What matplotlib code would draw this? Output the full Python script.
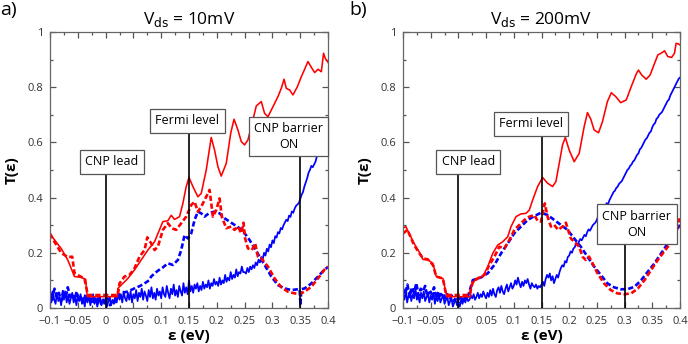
## transmission T(eps) for two bias voltages, solid/dashed red and blue curves
import numpy as np
import matplotlib as mpl
mpl.use('Agg')
import matplotlib.pyplot as plt
from matplotlib.ticker import MultipleLocator

plt.rcParams['font.family'] = ['Open Sans', 'DejaVu Sans']

# ---------------- panel a : Vds = 10mV ----------------
a_red_x = [-0.1, -0.08, -0.068, -0.056, -0.044, -0.036, -0.033, 0.021, 0.022, 0.04, 0.052, 0.064,
           0.076, 0.088, 0.103, 0.112, 0.118, 0.124, 0.133, 0.139, 0.145, 0.15, 0.157, 0.166, 0.172,
           0.181, 0.19, 0.196, 0.202, 0.208, 0.217, 0.225, 0.231, 0.238, 0.244, 0.25, 0.256, 0.262,
           0.271, 0.28, 0.286, 0.292, 0.298, 0.31, 0.316, 0.321, 0.325, 0.331, 0.337, 0.345, 0.352,
           0.358, 0.364, 0.37, 0.376, 0.382, 0.388, 0.392, 0.395, 0.4]
a_red_y = [0.268, 0.216, 0.174, 0.114, 0.111, 0.104, 0.041, 0.041, 0.071, 0.107, 0.138, 0.174,
           0.21, 0.24, 0.313, 0.316, 0.336, 0.321, 0.331, 0.379, 0.44, 0.473, 0.44, 0.403, 0.415,
           0.5, 0.618, 0.572, 0.512, 0.478, 0.524, 0.633, 0.684, 0.645, 0.603, 0.591, 0.609, 0.657,
           0.732, 0.748, 0.705, 0.693, 0.717, 0.766, 0.796, 0.829, 0.796, 0.79, 0.772, 0.802, 0.838,
           0.865, 0.893, 0.872, 0.853, 0.865, 0.856, 0.923, 0.905, 0.89]

a_redd_x = [-0.1, -0.092, -0.08, -0.068, -0.06, -0.056, -0.047, -0.038, -0.032, 0.022, 0.025, 0.034,
            0.043, 0.052, 0.061, 0.07, 0.075, 0.082, 0.088, 0.094, 0.103, 0.112, 0.119, 0.127, 0.136,
            0.145, 0.154, 0.16, 0.166, 0.172, 0.181, 0.187, 0.193, 0.199, 0.205, 0.209, 0.217, 0.226,
            0.232, 0.238, 0.244, 0.248, 0.251, 0.256, 0.263, 0.269, 0.274, 0.28, 0.292, 0.304, 0.316,
            0.328, 0.34, 0.349, 0.358, 0.37, 0.382, 0.394, 0.4]
a_redd_y = [0.27, 0.24, 0.2, 0.184, 0.186, 0.126, 0.116, 0.107, 0.047, 0.047, 0.089, 0.114,
            0.12, 0.144, 0.186, 0.21, 0.256, 0.234, 0.21, 0.222, 0.283, 0.307, 0.289, 0.283, 0.307,
            0.331, 0.373, 0.385, 0.349, 0.367, 0.403, 0.428, 0.331, 0.355, 0.397, 0.331, 0.289, 0.295,
            0.283, 0.295, 0.271, 0.309, 0.252, 0.216, 0.21, 0.234, 0.186, 0.18, 0.15, 0.107, 0.075,
            0.059, 0.053, 0.051, 0.059, 0.077, 0.107, 0.14, 0.15]

a_blue = [0.05, 0.02, 0.06, 0.03, 0.015, 0.055, 0.025, 0.04, 0.01, 0.05, 0.03, 0.06, 0.02, 0.045, 0.015, 0.035, 0.055, 0.02, 0.04, 0.01,
          0.045, 0.025, 0.05, 0.015, 0.035, 0.005, 0.04, 0.02, 0.045, 0.01, 0.03, 0.05, 0.015, 0.035, 0.005, 0.025, 0.04, 0.01, 0.03, 0.015,
          0.035, 0.005, 0.025, 0.04, 0.01, 0.03, 0.015, 0.045, 0.02, 0.055, 0.03, 0.05, 0.02, 0.06, 0.035, 0.025, 0.055, 0.03, 0.06, 0.02,
          0.05, 0.035, 0.065, 0.025, 0.055, 0.04, 0.07, 0.03, 0.06, 0.045, 0.025, 0.065, 0.04, 0.075, 0.035, 0.055, 0.03, 0.07, 0.045, 0.06,
          0.035, 0.075, 0.05, 0.04, 0.08, 0.055, 0.035, 0.07, 0.05, 0.085, 0.045, 0.065, 0.04, 0.08, 0.06, 0.045, 0.09, 0.055, 0.075, 0.05,
          0.1, 0.06, 0.08, 0.055, 0.085, 0.07, 0.09, 0.06, 0.08, 0.065, 0.095, 0.07, 0.085, 0.075, 0.1, 0.07, 0.09, 0.08, 0.105, 0.085,
          0.095, 0.08, 0.11, 0.085, 0.1, 0.09, 0.12, 0.095, 0.11, 0.1, 0.13, 0.105, 0.12, 0.11, 0.14, 0.115, 0.13, 0.125, 0.15, 0.13,
          0.13, 0.125, 0.145, 0.13, 0.15, 0.14, 0.155, 0.145, 0.165, 0.155, 0.175, 0.165, 0.185, 0.175, 0.2, 0.19, 0.215, 0.205, 0.23, 0.22,
          0.245, 0.235, 0.26, 0.255, 0.275, 0.27, 0.29, 0.285, 0.3, 0.31, 0.32, 0.315, 0.335, 0.33, 0.35, 0.345, 0.36, 0.37, 0.375, 0.38,
          0.395, 0.41, 0.42, 0.44, 0.455, 0.47, 0.49, 0.5, 0.515, 0.51, 0.52, 0.53, 0.55, 0.56, 0.58, 0.6, 0.595, 0.59, 0.605, 0.62, 0.63]

a_blued_x = [-0.1, -0.096, -0.092, -0.088, -0.084, -0.08, -0.076, -0.072, -0.068, -0.064, -0.06, -0.056,
             -0.052, -0.048, -0.044, -0.04, -0.036, -0.032, -0.028, -0.024, -0.02, -0.016, -0.012, -0.008,
             -0.004, 0.0, 0.004, 0.008, 0.012, 0.016, 0.02, 0.028, 0.04, 0.052, 0.062, 0.07, 0.078, 0.082,
             0.088, 0.094, 0.103, 0.112, 0.121, 0.13, 0.136, 0.142, 0.148, 0.154, 0.16, 0.166, 0.172, 0.178,
             0.187, 0.196, 0.205, 0.214, 0.223, 0.232, 0.241, 0.25, 0.259, 0.268, 0.277, 0.286, 0.298,
             0.31, 0.322, 0.334, 0.346, 0.349, 0.3505, 0.352, 0.358, 0.37, 0.382, 0.394, 0.4]
a_blued_y = [0.06, 0.03, 0.07, 0.04, 0.055, 0.025, 0.065, 0.035, 0.075, 0.04, 0.05, 0.03,
             0.06, 0.025, 0.045, 0.02, 0.05, 0.03, 0.04, 0.015, 0.035, 0.025, 0.04, 0.015,
             0.03, 0.02, 0.035, 0.01, 0.03, 0.02, 0.04, 0.053, 0.06, 0.071, 0.08, 0.089, 0.1, 0.114,
             0.125, 0.135, 0.147, 0.162, 0.156, 0.174, 0.21, 0.264, 0.252, 0.27, 0.319, 0.349, 0.343, 0.331,
             0.345, 0.349, 0.343, 0.325, 0.313, 0.301, 0.289, 0.271, 0.246, 0.216, 0.186, 0.156, 0.114,
             0.083, 0.071, 0.065, 0.068, 0.068, 0.01, 0.068, 0.071, 0.089, 0.114, 0.14, 0.148]

# ---------------- panel b : Vds = 200mV ----------------
b_red_x = [-0.1, -0.095, -0.089, -0.08, -0.071, -0.064, -0.055, -0.046, -0.04, -0.028, -0.021, 0.0215,
           0.024, 0.032, 0.044, 0.053, 0.062, 0.071, 0.08, 0.089, 0.095, 0.104, 0.113, 0.122, 0.128,
           0.134, 0.143, 0.152, 0.161, 0.17, 0.176, 0.182, 0.188, 0.193, 0.2, 0.209, 0.218, 0.227,
           0.233, 0.239, 0.245, 0.253, 0.26, 0.269, 0.276, 0.284, 0.293, 0.303, 0.312, 0.321, 0.325,
           0.331, 0.339, 0.346, 0.354, 0.36, 0.366, 0.372, 0.378, 0.385, 0.39, 0.393, 0.397, 0.4]
b_red_y = [0.289, 0.295, 0.271, 0.234, 0.204, 0.176, 0.174, 0.162, 0.114, 0.107, 0.041, 0.041,
           0.083, 0.107, 0.114, 0.15, 0.198, 0.228, 0.24, 0.258, 0.295, 0.331, 0.341, 0.343, 0.355,
           0.391, 0.44, 0.473, 0.452, 0.44, 0.458, 0.524, 0.591, 0.618, 0.572, 0.53, 0.56, 0.657,
           0.708, 0.684, 0.645, 0.635, 0.675, 0.748, 0.78, 0.766, 0.744, 0.754, 0.802, 0.848, 0.862,
           0.844, 0.829, 0.844, 0.886, 0.917, 0.923, 0.932, 0.911, 0.908, 0.923, 0.959, 0.957, 0.953]

b_redd_x = [-0.1, -0.092, -0.08, -0.071, -0.064, -0.055, -0.046, -0.04, -0.028, -0.022, 0.02, 0.026,
            0.035, 0.047, 0.056, 0.065, 0.074, 0.083, 0.092, 0.101, 0.11, 0.119, 0.128, 0.137, 0.143,
            0.149, 0.156, 0.161, 0.167, 0.173, 0.18, 0.188, 0.194, 0.198, 0.203, 0.209, 0.218, 0.224,
            0.23, 0.236, 0.242, 0.251, 0.263, 0.275, 0.287, 0.3, 0.312, 0.324, 0.336, 0.348, 0.36,
            0.369, 0.378, 0.387, 0.393, 0.396, 0.4]
b_redd_y = [0.27, 0.283, 0.228, 0.2, 0.18, 0.176, 0.156, 0.114, 0.107, 0.047, 0.047, 0.095,
            0.107, 0.12, 0.156, 0.186, 0.222, 0.216, 0.246, 0.283, 0.301, 0.319, 0.331, 0.337, 0.316,
            0.313, 0.379, 0.331, 0.295, 0.301, 0.283, 0.295, 0.309, 0.283, 0.252, 0.24, 0.222, 0.186,
            0.174, 0.186, 0.162, 0.126, 0.089, 0.065, 0.053, 0.05, 0.053, 0.071, 0.101, 0.138, 0.174,
            0.198, 0.222, 0.24, 0.258, 0.307, 0.325]

b_blue = [0.05, 0.03, 0.065, 0.02, 0.045, 0.06, 0.025, 0.05, 0.035, 0.07, 0.03, 0.045, 0.02, 0.055, 0.035, 0.06, 0.025, 0.04, 0.05, 0.02,
          0.045, 0.03, 0.055, 0.015, 0.04, 0.025, 0.05, 0.02, 0.035, 0.045, 0.015, 0.03, 0.04, 0.01, 0.025, 0.035, 0.005, 0.02, 0.03, 0.01,
          0.025, 0.005, 0.03, 0.015, 0.035, 0.02, 0.04, 0.025, 0.03, 0.045, 0.035, 0.05, 0.03, 0.04, 0.055, 0.035, 0.05, 0.04, 0.06, 0.045,
          0.035, 0.055, 0.04, 0.065, 0.045, 0.07, 0.05, 0.04, 0.065, 0.075, 0.055, 0.08, 0.06, 0.05, 0.07, 0.085, 0.06, 0.075, 0.09, 0.07,
          0.08, 0.1, 0.085, 0.11, 0.09, 0.075, 0.095, 0.08, 0.1, 0.09, 0.105, 0.085, 0.07, 0.09, 0.08, 0.075, 0.085, 0.07, 0.08, 0.075,
          0.085, 0.095, 0.08, 0.105, 0.12, 0.11, 0.125, 0.1, 0.115, 0.09, 0.105, 0.12, 0.11, 0.13, 0.145, 0.155, 0.15, 0.17, 0.165, 0.185,
          0.19, 0.205, 0.2, 0.215, 0.22, 0.235, 0.23, 0.24, 0.25, 0.245, 0.255, 0.265, 0.26, 0.275, 0.285, 0.28, 0.29, 0.3, 0.305, 0.31,
          0.32, 0.335, 0.33, 0.345, 0.355, 0.35, 0.365, 0.38, 0.375, 0.39, 0.4, 0.41, 0.42, 0.425, 0.435, 0.44, 0.45, 0.455, 0.46, 0.47,
          0.48, 0.49, 0.5, 0.505, 0.515, 0.52, 0.53, 0.535, 0.545, 0.555, 0.56, 0.575, 0.58, 0.59, 0.6, 0.61, 0.615, 0.625, 0.635, 0.64,
          0.655, 0.665, 0.67, 0.685, 0.69, 0.7, 0.705, 0.71, 0.72, 0.73, 0.74, 0.75, 0.755, 0.77, 0.78, 0.79, 0.8, 0.81, 0.82, 0.83, 0.835]

b_blued_x = [-0.1, -0.096, -0.092, -0.088, -0.084, -0.08, -0.076, -0.072, -0.068, -0.064, -0.06, -0.056,
             -0.052, -0.048, -0.044, -0.04, -0.036, -0.032, -0.028, -0.024, -0.02, -0.016, -0.012, -0.008,
             -0.004, 0.0, 0.004, 0.008, 0.012, 0.016, 0.02, 0.026, 0.041, 0.053, 0.065, 0.077, 0.089, 0.101,
             0.113, 0.125, 0.137, 0.149, 0.161, 0.173, 0.185, 0.197, 0.209, 0.221, 0.233, 0.245, 0.257,
             0.269, 0.281, 0.293, 0.305, 0.318, 0.33, 0.342, 0.354, 0.366, 0.378, 0.39, 0.4]
b_blued_y = [0.07, 0.05, 0.085, 0.04, 0.075, 0.055, 0.09, 0.045, 0.07, 0.06, 0.08, 0.04,
             0.065, 0.05, 0.075, 0.035, 0.06, 0.045, 0.055, 0.03, 0.05, 0.035, 0.045, 0.025,
             0.04, 0.03, 0.045, 0.02, 0.04, 0.035, 0.06, 0.101, 0.111, 0.126, 0.156, 0.198, 0.234, 0.271,
             0.295, 0.319, 0.333, 0.345, 0.337, 0.319, 0.301, 0.283, 0.252, 0.222, 0.186, 0.15, 0.12,
             0.089, 0.075, 0.068, 0.068, 0.077, 0.101, 0.132, 0.162, 0.198, 0.234, 0.271, 0.301]

eps_grid = np.linspace(-0.1, 0.4, 201)

titles = ['V$_{\\mathrm{ds}}$ = 10mV', 'V$_{\\mathrm{ds}}$ = 200mV']
panel_tags = ['a)', 'b)']
# annotations: (label, line x, box centre x, box centre y, box bottom)
notes_a = [('CNP lead', 0.0, 0.011, 0.529, 0.489),
           ('Fermi level', 0.15, 0.147, 0.678, 0.638),
           ('CNP barrier\nON', 0.35, 0.329, 0.621, 0.558)]
notes_b = [('CNP lead', 0.0, 0.018, 0.529, 0.49),
           ('Fermi level', 0.15, 0.131, 0.667, 0.627),
           ('CNP barrier\nON', 0.3, 0.322, 0.304, 0.239)]

fig = plt.figure(figsize=(6.88, 3.44), dpi=100)
ax_a = fig.add_axes([50/688, 36/344, 278/688, 276/344])
ax_b = fig.add_axes([403/688, 36/344, 277/688, 276/344])

panels = [
    (ax_a, a_red_x, a_red_y, a_redd_x, a_redd_y, a_blue, a_blued_x, a_blued_y, notes_a),
    (ax_b, b_red_x, b_red_y, b_redd_x, b_redd_y, b_blue, b_blued_x, b_blued_y, notes_b),
]

for k, (ax, rx, ry, rdx, rdy, bl, bdx, bdy, notes) in enumerate(panels):
    ax.plot(eps_grid, bl, color='#0000ff', lw=1.25)
    ax.plot(bdx, bdy, color='#0000ff', lw=1.9, dashes=(2, 1))
    ax.plot(rx, ry, color='#ff0000', lw=1.15)
    ax.plot(rdx, rdy, color='#ff0000', lw=1.9, dashes=(2, 1))

    for txt, xl, xc, yc, ybot in notes:
        ax.vlines(xl, 0, ybot, color='black', lw=1.2, zorder=5)
        ax.text(xc, yc, txt, ha='center', va='center', fontsize=9, zorder=6,
                linespacing=1.3,
                bbox=dict(boxstyle='square,pad=0.42', fc='white', ec='#555555', lw=0.9))

    ax.set_xlim(-0.1, 0.4)
    ax.set_ylim(0, 1)
    ax.xaxis.set_major_locator(MultipleLocator(0.05))
    ax.xaxis.set_minor_locator(MultipleLocator(0.025))
    ax.yaxis.set_major_locator(MultipleLocator(0.2))
    ax.yaxis.set_minor_locator(MultipleLocator(0.1))
    ax.set_xticks(np.round(np.arange(-0.1, 0.401, 0.05), 2))
    ax.set_xticklabels(['\u22120.1', '\u22120.05', '0', '0.05', '0.1', '0.15', '0.2',
                        '0.25', '0.3', '0.35', '0.4'])
    ax.set_yticks([0, 0.2, 0.4, 0.6, 0.8, 1.0])
    ax.set_yticklabels(['0', '0.2', '0.4', '0.6', '0.8', '1'])
    ax.tick_params(which='both', direction='in', top=True, right=True,
                   labelsize=8, labelcolor='#333333', color='#555555', width=0.9)
    ax.tick_params(axis='x', pad=6)
    ax.tick_params(axis='y', pad=5)
    ax.tick_params(which='major', length=4.5)
    ax.tick_params(which='minor', length=2.5)
    for s in ax.spines.values():
        s.set_color('#666666')
        s.set_linewidth(0.9)

    ax.set_xlabel('\u03b5 (eV)', fontsize=11, fontweight='bold', labelpad=1)
    ax.set_ylabel('T(\u03b5)', fontsize=11, fontweight='bold', labelpad=6)
    ax.set_title(titles[k], fontsize=12.5, pad=6)

fig.text(0.0, 0.998, panel_tags[0], fontsize=14, va='top', ha='left')
fig.text(0.508, 0.998, panel_tags[1], fontsize=14, va='top', ha='left')

fig.savefig('out.png', dpi=100)
